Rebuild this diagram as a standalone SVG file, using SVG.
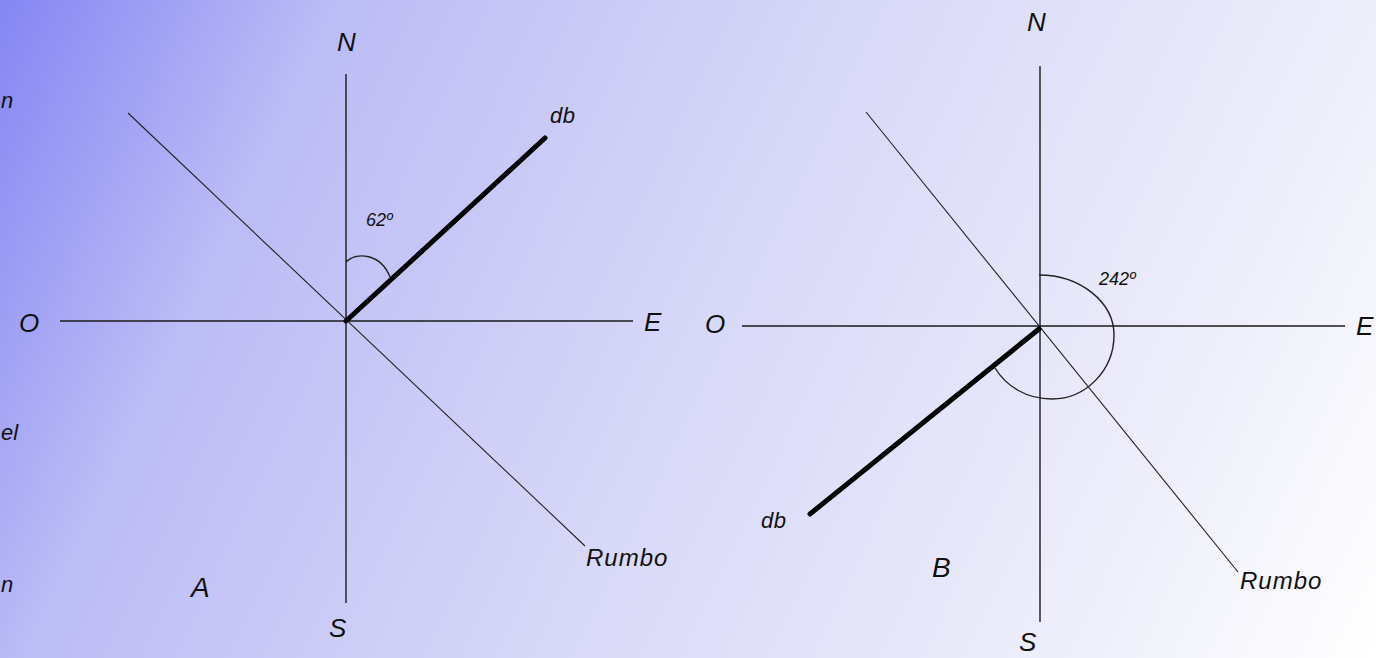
<svg xmlns="http://www.w3.org/2000/svg" width="1376" height="658" viewBox="0 0 1376 658">
<defs>
<linearGradient id="bg" gradientUnits="userSpaceOnUse" x1="0" y1="0" x2="1376" y2="658">
<stop offset="0" stop-color="#8585f4"/>
<stop offset="0.2" stop-color="#bcbcf6"/>
<stop offset="0.5" stop-color="#d7d7f8"/>
<stop offset="0.8" stop-color="#ededfb"/>
<stop offset="1" stop-color="#ffffff"/>
</linearGradient>
<style>
.ax{stroke:#1a1a1a;stroke-width:1.4;fill:none}
.dg{stroke:#222;stroke-width:1.1;fill:none}
.db{stroke:#000;stroke-width:5;stroke-linecap:round;fill:none}
.arc{stroke:#222;stroke-width:1.4;fill:none}
text{font-family:"Liberation Sans",Arial,sans-serif;font-style:italic;fill:#111}
.lt{font-size:26px}
.big{font-size:28px}
.sm{font-size:22px;letter-spacing:0.5px}
.rb{font-size:24px;letter-spacing:1px}
.ang{font-size:18px}
.edge{font-size:22px}
</style>
</defs>
<rect width="1376" height="658" fill="url(#bg)"/>
<g id="edge-text">
<text class="edge" x="1" y="108">n</text>
<text class="edge" x="1" y="440">el</text>
<text class="edge" x="1" y="592">n</text>
</g>
<g id="connectors">
<line class="ax" x1="346" y1="74" x2="346" y2="603"/>
<line class="ax" x1="60" y1="321" x2="633" y2="321"/>
<line class="dg" x1="128" y1="113" x2="585" y2="546"/>
<line class="db" x1="346" y1="321" x2="545" y2="138"/>
<path class="arc" d="M346,262 C357,251 381,254 390,277"/>
<line class="ax" x1="1040" y1="66" x2="1040" y2="622"/>
<line class="ax" x1="742" y1="326" x2="1345" y2="326"/>
<line class="dg" x1="866" y1="112" x2="1238" y2="572"/>
<line class="db" x1="1039" y1="329" x2="810" y2="514"/>
<path class="arc" d="M1039,275 C1080,275 1114,302 1114,335 C1114,370 1086,399 1052,399 C1026,399 1006,386 995,368"/>
</g>
<g id="diagram-A">
<text id="A-N" class="lt" x="337" y="51">N</text>
<text id="A-S" class="lt" x="329" y="637">S</text>
<text id="A-O" class="lt" x="19" y="332">O</text>
<text id="A-E" class="lt" x="644" y="331">E</text>
<text id="A-db" class="sm" x="550" y="123">db</text>
<text id="A-ang" class="ang" x="366" y="226">62º</text>
<text id="A-rumbo" class="rb" x="586" y="566">Rumbo</text>
<text id="A-label" class="big" x="191" y="597">A</text>
</g>
<g id="diagram-B">
<text id="B-N" class="lt" x="1027" y="31">N</text>
<text id="B-S" class="lt" x="1019" y="651">S</text>
<text id="B-O" class="lt" x="705" y="333">O</text>
<text id="B-E" class="lt" x="1356" y="335">E</text>
<text id="B-db" class="sm" x="761" y="528">db</text>
<text id="B-ang" class="ang" x="1099" y="285">242º</text>
<text id="B-rumbo" class="rb" x="1240" y="589">Rumbo</text>
<text id="B-label" class="big" x="932" y="577">B</text>
</g>
</svg>
